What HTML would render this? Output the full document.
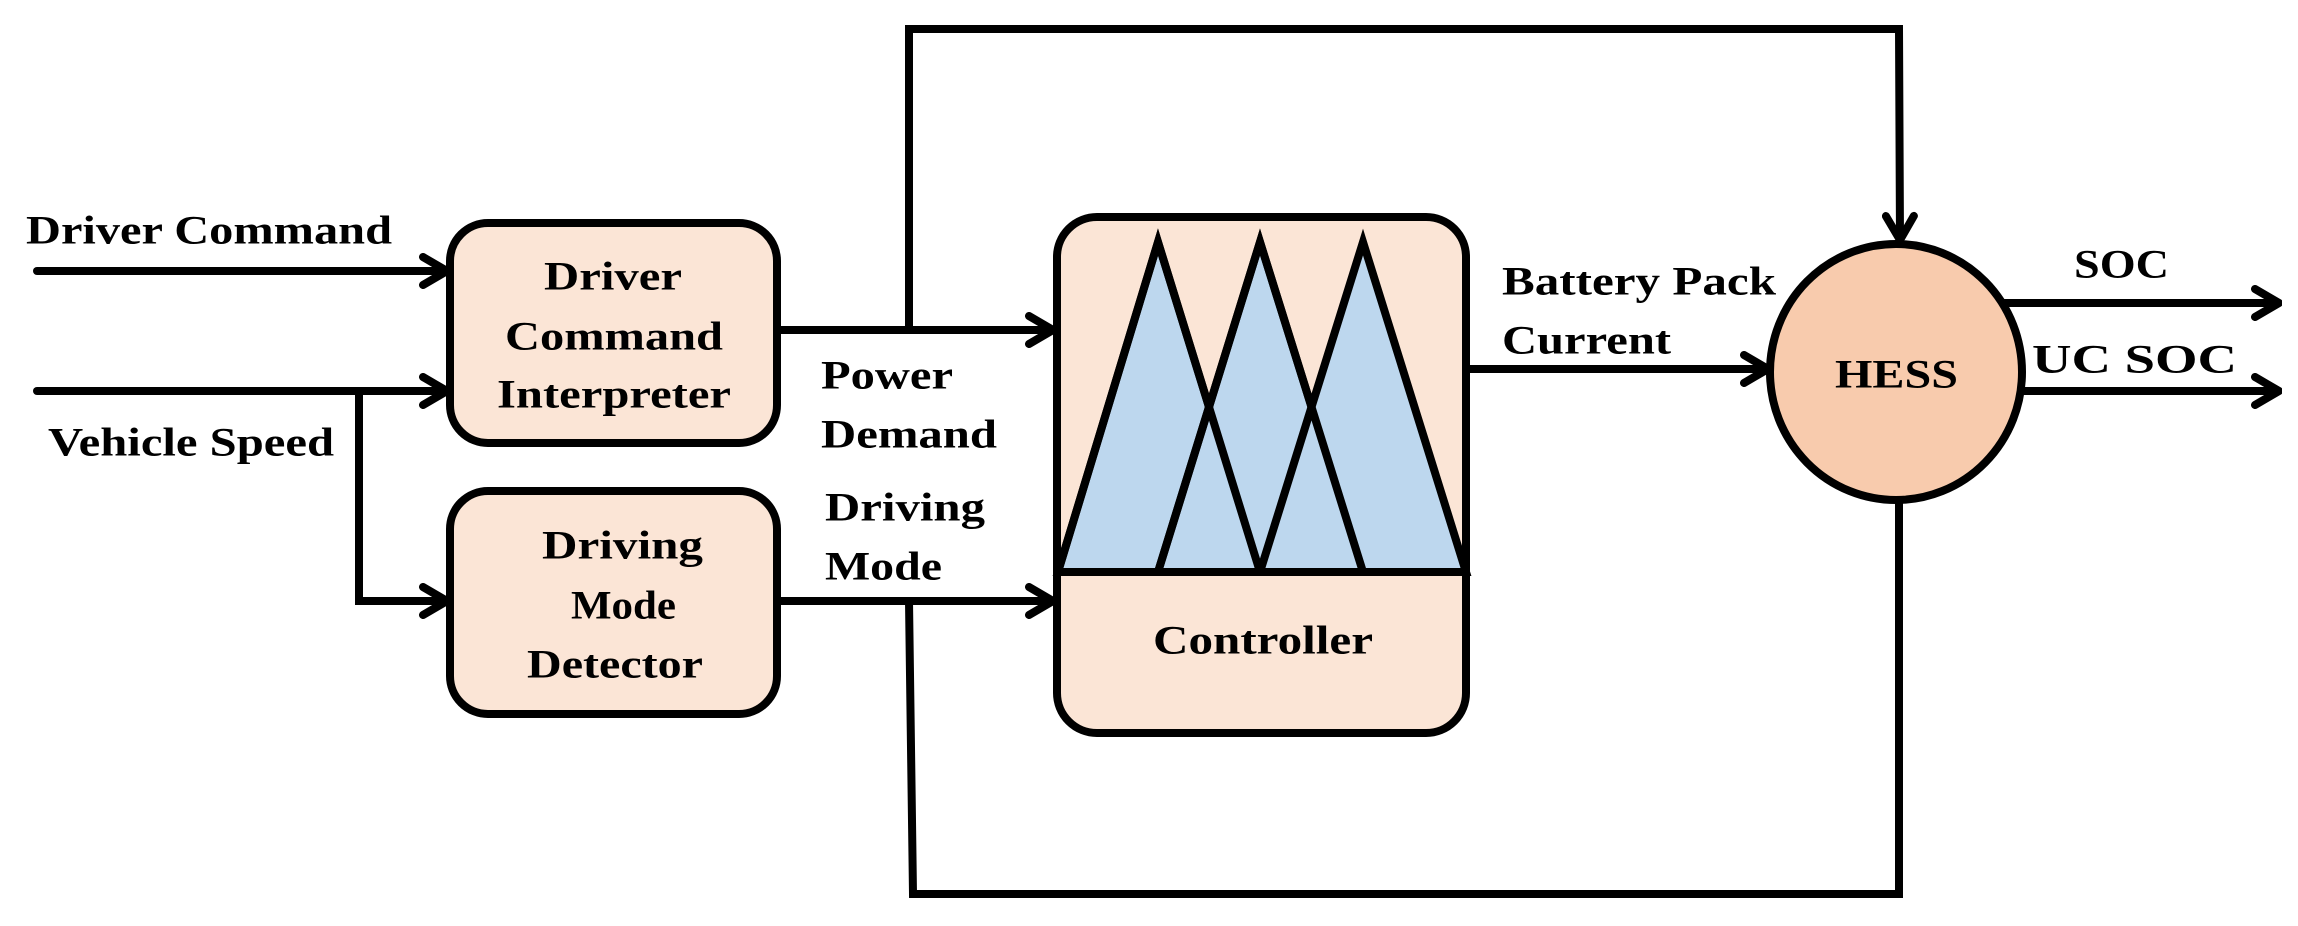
<!DOCTYPE html>
<html><head><style>html,body{margin:0;padding:0;background:#fff}svg{display:block}</style></head>
<body>
<svg width="2298" height="926" viewBox="0 0 2298 926" xmlns="http://www.w3.org/2000/svg">
<defs>
<marker id="a" viewBox="0 0 32 36" refX="29" refY="18" markerWidth="32" markerHeight="36" markerUnits="userSpaceOnUse" orient="auto">
<path d="M5,4 L29,18 L5,32" fill="none" stroke="#000" stroke-width="8" stroke-linecap="round" stroke-linejoin="round"/>
</marker>
</defs>
<g stroke="#000" stroke-width="8" fill="none" stroke-linejoin="miter">
<line x1="37" y1="271" x2="447" y2="271" marker-end="url(#a)" stroke-linecap="round"/>
<line x1="37" y1="391" x2="447" y2="391" marker-end="url(#a)" stroke-linecap="round"/>
<polyline points="359,391 359,601 447,601" marker-end="url(#a)"/>
<rect x="450" y="223" width="327" height="220" rx="38" fill="#fbe5d6"/>
<rect x="450" y="491" width="327" height="223" rx="38" fill="#fbe5d6"/>
<line x1="777" y1="330" x2="1053" y2="330" marker-end="url(#a)"/>
<line x1="777" y1="601" x2="1053" y2="601" marker-end="url(#a)"/>
<polyline points="909,330 909,29 1899,29 1900,240" marker-end="url(#a)"/>
<polyline points="909,601 913,894 1899,894 1899,498"/>
<rect x="1057" y="217" width="409" height="516" rx="40" fill="#fbe5d6"/>
<polygon points="1058,572 1158,242 1260,572" fill="#bdd7ee"/>
<polygon points="1158,572 1260,242 1363,572" fill="#bdd7ee"/>
<polygon points="1260,572 1363,242 1466,572" fill="#bdd7ee"/>
<polyline points="1058,572 1158,242 1260,572"/>
<polyline points="1158,572 1260,242 1363,572"/>
<line x1="1055" y1="572" x2="1468" y2="572"/>
<line x1="1466" y1="369" x2="1768" y2="369" marker-end="url(#a)"/>
<ellipse cx="1896" cy="372" rx="126" ry="128" fill="#f8cbad"/>
<line x1="2002" y1="303" x2="2279" y2="303" marker-end="url(#a)"/>
<line x1="2020" y1="391" x2="2279" y2="391" marker-end="url(#a)"/>
</g>
<g font-family="'Liberation Serif',serif" font-weight="bold" font-size="40" fill="#000" dominant-baseline="central">
<text x="26" y="230" textLength="366" lengthAdjust="spacingAndGlyphs">Driver Command</text>
<text x="48" y="442" textLength="286" lengthAdjust="spacingAndGlyphs">Vehicle Speed</text>
<text x="544" y="276" textLength="138" lengthAdjust="spacingAndGlyphs">Driver</text>
<text x="505" y="336" textLength="218" lengthAdjust="spacingAndGlyphs">Command</text>
<text x="497" y="394" textLength="234" lengthAdjust="spacingAndGlyphs">Interpreter</text>
<text x="542" y="545" textLength="161" lengthAdjust="spacingAndGlyphs">Driving</text>
<text x="571" y="605" textLength="105" lengthAdjust="spacingAndGlyphs">Mode</text>
<text x="527" y="664" textLength="176" lengthAdjust="spacingAndGlyphs">Detector</text>
<text x="821" y="375" textLength="132" lengthAdjust="spacingAndGlyphs">Power</text>
<text x="821" y="434" textLength="176" lengthAdjust="spacingAndGlyphs">Demand</text>
<text x="825" y="507" textLength="160" lengthAdjust="spacingAndGlyphs">Driving</text>
<text x="825" y="566" textLength="117" lengthAdjust="spacingAndGlyphs">Mode</text>
<text x="1153" y="640" textLength="220" lengthAdjust="spacingAndGlyphs">Controller</text>
<text x="1502" y="281" textLength="274" lengthAdjust="spacingAndGlyphs">Battery Pack</text>
<text x="1502" y="340" textLength="169" lengthAdjust="spacingAndGlyphs">Current</text>
<text x="1835" y="374" textLength="123" lengthAdjust="spacingAndGlyphs">HESS</text>
<text x="2074" y="264" textLength="95" lengthAdjust="spacingAndGlyphs">SOC</text>
<text x="2032" y="359" textLength="205" lengthAdjust="spacingAndGlyphs">UC SOC</text>
</g>
</svg>
</body></html>
